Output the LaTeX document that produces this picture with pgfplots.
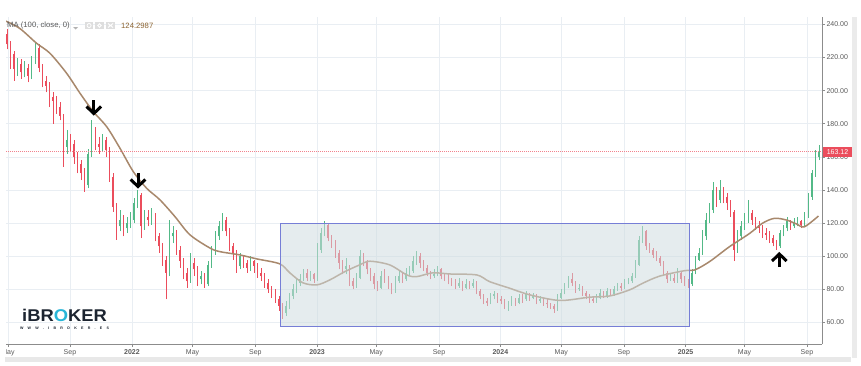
\documentclass[border=0pt]{standalone}
\usepackage{pgfplots}
\pgfplotsset{compat=1.18}
\usepackage{pgfplotstable}
\usepackage{fontspec}
\setmainfont{Liberation Sans}
\definecolor{upc}{RGB}{83,185,135}
\definecolor{dnc}{RGB}{235,77,92}
\definecolor{mac}{RGB}{168,136,108}
\definecolor{gridc}{RGB}{233,238,243}
\definecolor{axc}{RGB}{140,140,140}
\definecolor{boxfill}{RGB}{207,220,224}
\definecolor{boxline}{RGB}{118,126,214}
\definecolor{txtc}{RGB}{90,90,90}
\definecolor{logoc}{RGB}{28,36,48}
\definecolor{logoo}{RGB}{41,182,216}
\definecolor{mavalc}{RGB}{140,100,50}

\pgfplotstableread{
w o h l c
0 234 237 225 228
1 228 230 213 222
2 222 224 206 213
3 213 220 209 216
4 216 219 207 211
5 211 218 208 214
6 214 216 205 209
7 209 221 207 218
8 218 229 216 226
9 226 228 211 214
10 214 216 202 206
11 206 209 199 203
12 203 205 190 196
13 196 199 180 194
14 194 197 186 190
15 190 193 182 185
16 185 186 154 166
17 166 176 162 170
18 170 174 163 168
19 168 170 156 160
20 160 163 150 156
21 156 158 146 150
22 150 153 139 143
23 143 165 141 162
24 162 182 160 176
25 176 178 164 168
26 168 172 162 166
27 166 174 163 170
28 170 172 160 164
29 164 166 145 148
30 148 150 127 130
31 130 132 110 118
32 118 128 115 122
33 122 125 112 117
34 117 124 114 120
35 120 127 117 122
36 122 135 120 132
37 132 140 129 137
38 137 138 111 118
39 118 128 116 124
40 124 128 118 122
41 122 129 119 125
42 125 126 109 112
43 112 114 102 106
44 106 108 94 98
45 98 100 74 90
46 90 122 88 112
47 112 118 108 114
48 114 116 101 104
49 104 106 93 97
50 97 99 86 90
51 90 93 81 85
52 85 102 84 96
53 96 99 88 92
54 92 94 82 86
55 86 91 83 88
56 88 90 81 83
57 83 97 82 95
58 95 106 93 103
59 103 115 101 112
60 112 121 110 118
61 118 126 115 122
62 122 124 112 115
63 115 117 103 106
64 106 108 98 102
65 102 104 90 94
66 94 102 92 100
67 100 101 93 96
68 96 98 90 93
69 93 100 91 97
70 97 98 90 94
71 94 96 87 90
72 90 93 85 88
73 88 90 81 84
74 84 86 78 80
75 80 82 75 78
76 78 80 72 74
77 74 76 67 70
78 70 72 62 66
79 66 73 64 70
80 70 78 68 76
81 76 83 74 80
82 80 86 78 84
83 84 89 82 86
84 86 92 85 90
85 90 92 85 87
86 87 91 85 89
87 89 90 84 86
88 86 108 85 104
89 104 117 102 114
90 114 121 112 119
91 119 120 109 111
92 111 113 105 108
93 108 110 99 102
94 102 104 92 96
95 96 98 89 92
96 92 99 89 94
97 94 95 82 85
98 85 87 80 82
99 82 90 81 87
100 87 104 86 100
101 100 102 94 97
102 97 98 89 92
103 92 93 85 88
104 88 90 80 83
105 83 85 79 81
106 81 91 80 88
107 88 92 84 86
108 86 88 80 82
109 82 84 77 79
110 79 88 78 85
111 85 91 84 88
112 88 90 84 86
113 86 93 85 90
114 90 94 88 91
115 91 100 90 97
116 97 103 95 100
117 100 102 93 96
118 96 98 91 93
119 93 95 88 90
120 90 91 86 88
121 88 92 87 89
122 89 94 88 92
123 92 93 86 88
124 88 90 85 87
125 87 89 83 85
126 85 87 82 84
127 84 86 80 82
128 82 87 81 84
129 84 85 79 81
130 81 86 80 83
131 83 85 80 82
132 82 86 81 84
133 84 85 77 79
134 79 80 74 76
135 76 77 71 73
136 73 75 70 72
137 72 78 71 76
138 76 79 74 77
139 77 78 72 74
140 74 76 71 73
141 73 74 68 70
142 70 73 67 71
143 71 76 70 74
144 74 75 70 72
145 72 77 71 75
146 75 77 72 74
147 74 79 73 77
148 77 78 73 75
149 75 78 74 76
150 76 77 71 73
151 73 76 72 74
152 74 75 70 72
153 72 74 69 71
154 71 72 68 70
155 70 71 66 68
156 68 77 67 75
157 75 80 74 78
158 78 84 77 82
159 82 88 81 86
160 86 90 82 84
161 84 85 78 80
162 80 83 79 81
163 81 82 76 78
164 78 79 74 76
165 76 77 72 74
166 74 76 72 73
167 73 77 72 75
168 75 80 74 78
169 78 79 75 76
170 76 81 75 79
171 79 80 76 77
172 77 82 76 80
173 80 84 79 82
174 82 84 79 81
175 81 86 80 84
176 84 87 83 85
177 85 90 84 88
178 88 98 87 95
179 95 112 94 110
180 110 118 108 115
181 115 116 104 106
182 106 108 102 104
183 104 105 99 101
184 101 103 97 99
185 99 100 94 96
186 96 97 88 90
187 90 91 84 86
188 86 90 85 87
189 87 89 84 85
190 85 93 84 90
191 90 91 84 86
192 86 88 82 84
193 84 86 81 83
194 83 92 82 90
195 90 100 89 98
196 98 105 97 102
197 102 116 101 112
198 112 126 110 122
199 122 132 120 128
200 128 145 126 140
201 140 142 130 134
202 134 146 132 140
203 140 142 132 136
204 136 138 128 132
205 132 134 124 127
206 127 128 97 104
207 104 116 102 112
208 112 121 110 118
209 118 126 116 122
210 122 134 120 126
211 126 128 119 122
212 122 124 116 119
213 119 121 114 117
214 117 119 111 114
215 114 117 110 113
216 113 115 108 111
217 111 113 106 108
218 108 110 104 106
219 106 116 105 114
220 114 119 112 117
221 117 124 115 121
222 121 122 116 118
223 118 123 117 120
224 120 124 118 121
225 121 122 117 119
226 119 127 118 124
227 124 138 123 136
228 136 152 134 150
229 150 164 148 160
230 160 167 158 163.12
}\candles

\pgfplotstableread{
w v
-0.28 242
3.68 237.5
8.41 228.6
12.17 222.6
16.90 210.5
20.67 198.5
24.43 187.4
28.23 178.3
31.99 165.3
35.76 151.2
39.55 141.1
43.32 134.1
47.56 124
51.81 113
57.47 105
60.31 102.8
65.97 100.8
70.78 98.4
77.29 95.4
80.12 90
83.80 84
87.77 82.7
91.45 85.7
95.70 90.7
99.94 94.8
102.8 97
108.4 94.8
113.3 88.7
116.1 87.7
120.6 90
125.4 89.3
133.1 88.7
136.7 84.7
142.4 80.7
148.1 76.7
156.6 73.3
165.1 75.3
170.7 76
176.4 79.7
180.1 83.7
184.9 88
192.0 91.3
194.8 91.7
199.0 96.7
204.7 105.8
210.4 113.8
214.0 119.9
217.4 122.9
220.8 121.9
223.7 119.5
225.9 117.8
229.9 124.3
}\ma

\begin{document}
\begin{tikzpicture}
\useasboundingbox (-6pt,-21pt) rectangle (855pt,344pt);
\fill[white] (-6pt,-21pt) rectangle (855pt,344pt);
\begin{scope}
\clip (0pt,-21pt) rectangle (855pt,344pt);
\begin{axis}[
  at={(0pt,0pt)}, anchor=south west,
  scale only axis, width=816pt, height=327pt,
  xmin=-0.28, xmax=230.9, ymin=47, ymax=244.5,
  axis x line*=bottom, axis y line*=right,
  axis line style={axc, line width=0.8pt},
  every tick/.style={axc, line width=0.6pt},
  tick align=outside,
  major tick length=3pt,
  grid=major,
  major grid style={gridc, line width=0.6pt},
  xtick={0.28,17.84,35.39,52.58,70.36,87.85,104.61,122.40,139.78,157.05,174.77,192.24,208.95,226.64},
  xticklabels={May,Sep,\textbf{2022},May,Sep,\textbf{2023},May,Sep,\textbf{2024},May,Sep,\textbf{2025},May,Sep},
  ytick={60,80,100,120,140,160,180,200,220,240},
  yticklabels={60.00,80.00,100.00,120.00,140.00,160.00,180.00,200.00,220.00,240.00},
  tick label style={font=\fontsize{7}{8}\selectfont, text=txtc},
  yticklabel style={anchor=west, xshift=-2pt},
  xticklabel style={yshift=1pt},
]
% up candles: wicks and bodies
\addplot[draw=none, forget plot,
  restrict expr to domain={\thisrow{c}-\thisrow{o}}{0:1000},
  error bars/.cd, y dir=plus, y explicit, error mark=none,
  error bar style={draw=upc, line width=0.5pt}]
  table[x=w, y=l, y error expr=\thisrow{h}-\thisrow{l}] {\candles};
\addplot[draw=none, forget plot,
  restrict expr to domain={\thisrow{c}-\thisrow{o}}{0:1000},
  error bars/.cd, y dir=plus, y explicit, error mark=none,
  error bar style={draw=upc, line width=1.4pt}]
  table[x=w, y=o, y error expr=\thisrow{c}-\thisrow{o}] {\candles};
% down candles
\addplot[draw=none, forget plot,
  restrict expr to domain={\thisrow{c}-\thisrow{o}}{-1000:-0.001},
  error bars/.cd, y dir=plus, y explicit, error mark=none,
  error bar style={draw=dnc, line width=0.5pt}]
  table[x=w, y=l, y error expr=\thisrow{h}-\thisrow{l}] {\candles};
\addplot[draw=none, forget plot,
  restrict expr to domain={\thisrow{c}-\thisrow{o}}{-1000:-0.001},
  error bars/.cd, y dir=plus, y explicit, error mark=none,
  error bar style={draw=dnc, line width=1.4pt}]
  table[x=w, y=c, y error expr=\thisrow{o}-\thisrow{c}] {\candles};
% moving average
\addplot[mac, line width=1.5pt, smooth, tension=0.5] table[x=w, y=v] {\ma};
% last price line
\draw[dnc!70, line width=0.6pt, dash pattern=on 1pt off 1pt] (axis cs:-0.28,163.12) -- (axis cs:230.9,163.12);
% range box
\fill[boxfill, fill opacity=0.54] (axis cs:77.49,57.4) rectangle (axis cs:193.46,119.8);
\draw[boxline, line width=0.9pt] (axis cs:77.49,57.4) rectangle (axis cs:193.46,119.8);
\end{axis}
\end{scope}
% right and bottom grey strips
\fill[black!8] (846pt,327pt) rectangle (851pt,-14pt);
\fill[black!9] (-1pt,-13.3pt) rectangle (845pt,-17.7pt);
% last price tag
\fill[dnc] (817pt,197.3pt) rectangle (846pt,186.7pt);
\node[text=white, font=\fontsize{7}{8}\selectfont, inner sep=0pt] at (831.5pt,192pt) {163.12};
% indicator legend
\node[anchor=west, inner sep=0pt, text=txtc, font=\fontsize{7.7}{9}\selectfont] at (1pt,318.5pt) {MA (100, close, 0)};
\fill[black!30] (67pt,317pt) -- (72pt,317pt) -- (69.5pt,314.5pt) -- cycle;
\fill[black!13] (79pt,322.3pt) rectangle (87.3pt,314.7pt);
\fill[black!13] (89pt,322.3pt) rectangle (98pt,314.7pt);
\fill[black!13] (100pt,322.3pt) rectangle (109pt,314.7pt);
\draw[white, line width=0.8pt] (83.1pt,318.5pt) circle (2pt);
\draw[white, line width=0.8pt] (93.5pt,318.5pt) circle (1.8pt);
\draw[white, line width=0.9pt] (102pt,316.5pt) -- (107pt,320.5pt) (102pt,320.5pt) -- (107pt,316.5pt);
\node[anchor=west, inner sep=0pt, text=mavalc, font=\fontsize{7.7}{9}\selectfont] at (115pt,318.5pt) {124.2987};
% arrows
\draw[line width=3pt] (87.8pt,244pt) -- (87.8pt,231pt);
\draw[line width=3pt, line join=miter] (80.5pt,237.5pt) -- (87.8pt,230.5pt) -- (95.1pt,237.5pt);
\draw[line width=3pt] (132pt,171pt) -- (132pt,158pt);
\draw[line width=3pt, line join=miter] (124.7pt,164.5pt) -- (132pt,157.5pt) -- (139.3pt,164.5pt);
\draw[line width=3pt] (773.3pt,77pt) -- (773.3pt,89pt);
\draw[line width=3pt, line join=miter] (766pt,83pt) -- (773.3pt,90pt) -- (780.6pt,83pt);
% logo
\node[inner sep=0pt, font=\fontsize{17}{17}\selectfont\bfseries, text=logoc, xscale=1.08, transform shape] at (58.5pt,28.5pt) {iBR\textcolor{logoo}{O}KER};
\node[inner sep=0pt, font=\fontsize{3.6}{4}\selectfont\bfseries, text=logoc] at (58.5pt,16pt) {\makebox[89pt][s]{W\hfil W\hfil W\hfil .\hfil I\hfil B\hfil R\hfil O\hfil K\hfil E\hfil R\hfil .\hfil E\hfil S}};
\end{tikzpicture}
\end{document}
